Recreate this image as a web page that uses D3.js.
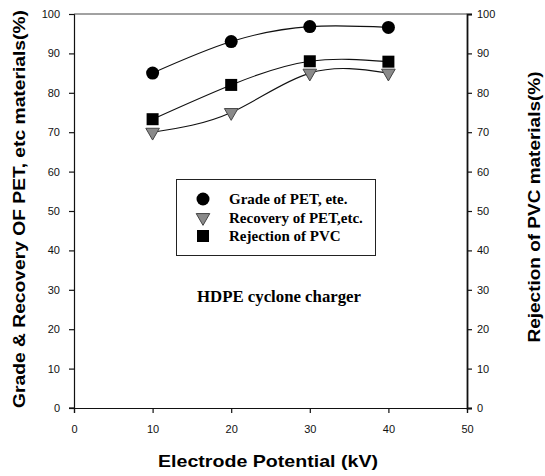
<!DOCTYPE html>
<html>
<head>
<meta charset="utf-8">
<script src="https://cdn.jsdelivr.net/npm/d3@7"></script>
<style>
  body { margin: 0; background: #fff; }
  svg { display: block; }
</style>
</head>
<body>
<div id="chart"></div>
<script>
// data
const potential = [10, 20, 30, 40];
const grade = [85, 93, 96.8, 96.6];
const recovery = [70, 75, 85, 85];
const rejection = [73.3, 82, 88, 87.9];
const xTicks = [0, 10, 20, 30, 40, 50];
const yTicks = [0, 10, 20, 30, 40, 50, 60, 70, 80, 90, 100];
const legendLabels = ["Grade of PET, ete.", "Recovery of PET,etc.", "Rejection of PVC"];

const W = 545, H = 476;
const m = { left: 74, right: 78, top: 14, bottom: 68 };

const svg = d3.select("#chart").append("svg").attr("width", W).attr("height", H);

const x = d3.scaleLinear().domain([0, 50]).range([m.left, W - m.right]);
const y = d3.scaleLinear().domain([0, 100]).range([H - m.bottom, m.top]);

const sans = "'Liberation Sans', Arial, sans-serif";
const serif = "'Liberation Serif', 'Times New Roman', serif";

// axes
const gx = svg.append("g").attr("transform", `translate(0,${y(0)})`)
    .call(d3.axisBottom(x).tickValues(xTicks).tickSize(5).tickPadding(12));
const gl = svg.append("g").attr("transform", `translate(${x(0)},0)`)
    .call(d3.axisLeft(y).tickValues(yTicks).tickSize(5).tickPadding(9));
const gr = svg.append("g").attr("transform", `translate(${x(50)},0)`)
    .call(d3.axisRight(y).tickValues(yTicks).tickSize(5).tickPadding(5));
[gx, gl, gr].forEach(g => {
    g.selectAll("text").style("font-family", sans).style("font-size", "11px").attr("fill", "#111");
    g.selectAll("line,path").attr("stroke", "#111").attr("stroke-width", 1.2);
});
gr.select("path").attr("stroke-width", 1.8);
svg.append("line").attr("x1", x(0) - 5).attr("x2", x(0)).attr("y1", y(0)).attr("y2", y(0))
    .attr("stroke", "#111").attr("stroke-width", 1.2);
svg.append("line").attr("x1", x(0)).attr("x2", x(50)).attr("y1", y(100)).attr("y2", y(100))
    .attr("stroke", "#444").attr("stroke-width", 1);

// curves
const line = d3.line().curve(d3.curveNatural).x((d, i) => x(potential[i])).y(d => y(d));
[grade, rejection, recovery].forEach(s => {
    svg.append("path").attr("d", line(s)).attr("fill", "none").attr("stroke", "#111").attr("stroke-width", 1.1);
});

const tri = d3.symbol().type(d3.symbolTriangle).size(80);
function marker(g, kind, cx, cy) {
    if (kind === 0) g.append("circle").attr("cx", cx).attr("cy", cy).attr("r", 6.5).attr("fill", "#000");
    if (kind === 1) g.append("path").attr("d", tri()).attr("transform", `translate(${cx},${cy}) rotate(180)`)
        .attr("fill", "#8a8a8a").attr("stroke", "#444").attr("stroke-width", 1);
    if (kind === 2) g.append("rect").attr("x", cx - 6).attr("y", cy - 6).attr("width", 12).attr("height", 12).attr("fill", "#000");
}
const mg = svg.append("g");
[grade, recovery, rejection].forEach((s, k) => {
    s.forEach((v, i) => marker(mg, k, x(potential[i]), y(v)));
});

// legend
const lg = svg.append("g");
lg.append("rect").attr("x", 176.5).attr("y", 179.5).attr("width", 199).attr("height", 76)
    .attr("fill", "#fff").attr("stroke", "#222").attr("stroke-width", 1);
const ly = [199, 217.5, 236];
legendLabels.forEach((t, k) => {
    marker(lg, k, 203, ly[k]);
    lg.append("text").attr("x", 229).attr("y", ly[k] + 5).text(t)
        .style("font-family", serif).style("font-weight", "bold").style("font-size", "15px");
});

svg.append("text").attr("x", 279).attr("y", 302).attr("text-anchor", "middle").text("HDPE cyclone charger")
    .attr("textLength", 164).attr("lengthAdjust", "spacingAndGlyphs")
    .style("font-family", serif).style("font-weight", "bold").style("font-size", "16px");

// axis titles
svg.append("text").attr("transform", "translate(25,209) rotate(-90)").attr("text-anchor", "middle")
    .text("Grade & Recovery OF PET, etc materials(%)")
    .attr("textLength", 398).attr("lengthAdjust", "spacingAndGlyphs")
    .style("font-family", sans).style("font-weight", "bold").style("font-size", "17px");
svg.append("text").attr("transform", "translate(540,207) rotate(-90)").attr("text-anchor", "middle")
    .text("Rejection of PVC materials(%)")
    .attr("textLength", 271).attr("lengthAdjust", "spacingAndGlyphs")
    .style("font-family", sans).style("font-weight", "bold").style("font-size", "17px");
svg.append("text").attr("x", 268).attr("y", 467).attr("text-anchor", "middle")
    .text("Electrode Potential (kV)")
    .attr("textLength", 220).attr("lengthAdjust", "spacingAndGlyphs")
    .style("font-family", sans).style("font-weight", "bold").style("font-size", "17px");
</script>
</body>
</html>
